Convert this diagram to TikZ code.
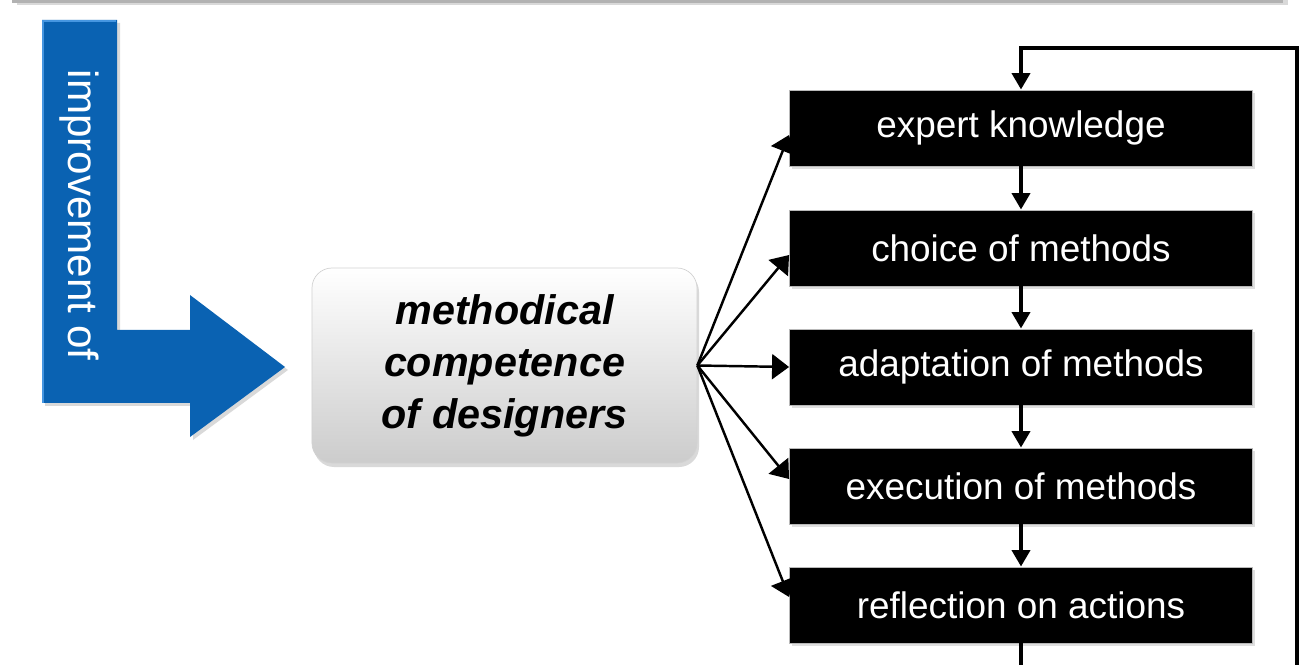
\documentclass[tikz,border=0pt]{standalone}
\usepackage{fontspec}
\setmainfont{Liberation Sans}
\usetikzlibrary{shadows,calc,arrows.meta}

\definecolor{arrowblue}{RGB}{10,98,178}
\definecolor{arrowedge}{RGB}{70,150,225}

\begin{document}
\begin{tikzpicture}[x=0.2mm, y=-0.2mm,
    >={Triangle[length=3.4mm, width=5mm]},
    stepbox/.style={fill=black, draw=gray!55, line width=0.5pt, text=white,
        minimum width=9.26cm, minimum height=1.52cm,
        font=\fontsize{21}{25}\selectfont,
        drop shadow={opacity=0.25, shadow xshift=0.5mm, shadow yshift=-0.6mm}},
    corebox/.style={rounded corners=4mm, draw=gray!35, top color=white,
        middle color=white, bottom color=gray!40,
        minimum width=7.7cm, minimum height=3.9cm, align=center,
        font=\bfseries\itshape\fontsize{23.5}{29.5}\selectfont,
        drop shadow={opacity=0.3, shadow xshift=0.4mm, shadow yshift=-0.8mm}},
    flow/.style={->, line width=1.4pt},
    chain/.style={-{Triangle[length=3.3mm, width=3.6mm]}, line width=2.2pt},
    ]
    \useasboundingbox (0,0) rectangle (1316,665);
    \clip (0,0) rectangle (1316,665);

    % Frame edge at the top
    \fill[gray!60, drop shadow={opacity=0.3, shadow yshift=-0.5mm}] (12,-10) rectangle (1283,3);

    % Blue arrow
    \fill[arrowblue, drop shadow={opacity=0.3, shadow xshift=0.6mm, shadow yshift=-0.6mm}]
        (42,20) -- (117,20) -- (117,330) -- (190,330) -- (190,295) -- (285,367)
        -- (190,437) -- (190,403) -- (42,403) -- cycle;
    \draw[arrowedge, line width=1pt] (43,403) -- (43,21) -- (116,21);
    \node[text=white, rotate=-90, font=\fontsize{24}{28}\selectfont] (improve) at (79,215) {improvement of};

    % Central node
    \node[corebox] (competence) at (504.5,365.5) {\rule{0pt}{14pt}methodical\\competence\\of designers};

    % Steps
    \node[stepbox] (expert)  at (1021,128) {expert knowledge};
    \node[stepbox] (choice)  at (1021,248) {choice of methods};
    \node[stepbox] (adapt)   at (1021,367) {adaptation of methods};
    \node[stepbox] (exec)    at (1021,486) {execution of methods};
    \node[stepbox] (reflect) at (1021,605) {reflection on actions};

    % Fan of arrows
    \draw[flow] (competence.east) -- ($(expert.west)+(0,7)$);
    \draw[flow] (competence.east) -- ($(choice.west)+(0,7)$);
    \draw[flow] (competence.east) -- (adapt.west);
    \draw[flow] (competence.east) -- ($(exec.west)+(0,-7)$);
    \draw[flow] (competence.east) -- ($(reflect.west)+(0,-8)$);

    % Chain of steps
    \draw[chain] (expert.south) -- (choice.north);
    \draw[chain] (choice.south) -- (adapt.north);
    \draw[chain] (adapt.south) -- (exec.north);
    \draw[chain] (exec.south) -- (reflect.north);

    % Feedback loop
    \coordinate (loopbl) at (1021,700);
    \coordinate (loopbr) at (1297,700);
    \coordinate (looptr) at (1297,48);
    \coordinate (looptl) at (1021,48);
    \draw[chain] (reflect.south) -- (loopbl) -- (loopbr) -- (looptr) -- (looptl) -- (expert.north);
\end{tikzpicture}
\end{document}
